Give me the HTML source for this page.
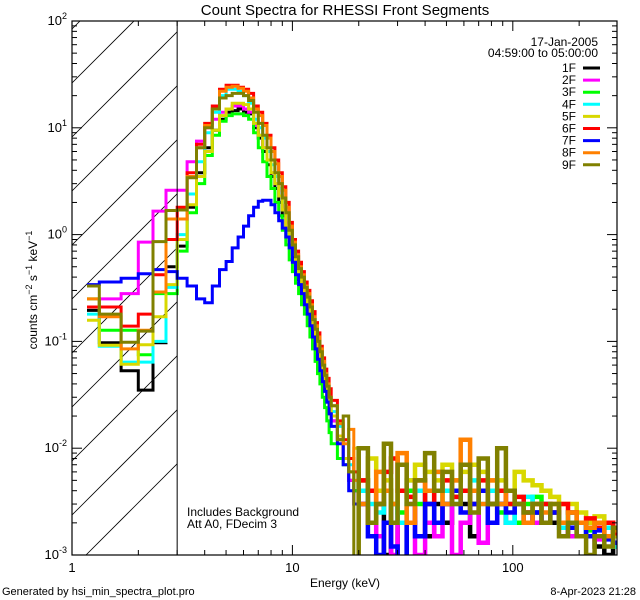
<!DOCTYPE html>
<html><head><meta charset="utf-8">
<style>
html,body{margin:0;padding:0;background:#fff;width:640px;height:600px;overflow:hidden;}
svg{display:block;font-family:"Liberation Sans",sans-serif;}
</style></head>
<body>
<svg id="chart" width="640" height="600" viewBox="0 0 640 600">
<defs><clipPath id="plotclip"><rect x="72" y="21" width="545" height="534"/></clipPath></defs>
<rect x="0" y="0" width="640" height="600" fill="#fff"/>
<text x="345" y="15" font-size="15" text-anchor="middle">Count Spectra for RHESSI Front Segments</text>
<g id="hatch"></g>
<g id="series" clip-path="url(#plotclip)"></g>
<g id="axes"></g>
<text x="187" y="516" font-size="12">Includes Background</text>
<text x="187" y="528" font-size="12">Att A0, FDecim 3</text>
<text x="598" y="46" font-size="12" text-anchor="end">17-Jan-2005</text>
<text x="598" y="57" font-size="12" text-anchor="end">04:59:00 to 05:00:00</text>
<g id="legend"></g>
<text x="37" y="290" font-size="12" text-anchor="middle" transform="rotate(-90 37 290)">counts cm<tspan dy="-5" font-size="9">−2</tspan><tspan dy="5"> s</tspan><tspan dy="-5" font-size="9">−1</tspan><tspan dy="5"> keV</tspan><tspan dy="-5" font-size="9">−1</tspan></text>
<text x="345" y="587" font-size="12" text-anchor="middle">Energy (keV)</text>
<text x="2" y="595" font-size="11">Generated by hsi_min_spectra_plot.pro</text>
<text x="636" y="595" font-size="11" text-anchor="end">8-Apr-2023 21:28</text>
</svg>
<script>
const lowEdges = [1.17,1.33,1.67,2,2.33,2.67,3];
const midEdges = [3,3.33,3.67,4,4.33,4.67,5,5.33,5.67,6,6.33,6.67,7,7.33,7.67,8,8.33,8.67,9,9.33,9.67,10,10.33,10.67,11,11.33,11.67,12,12.33,12.67,13,13.33,13.67,14,14.33,14.67,15,16,17,18,19,20];
const tailEdges = [20,22,24,26,28,30,33,36,40,44,48,53,58,64,70,77,85,93,102,112,123,135,148,162,178,195,215,235,260,285,300];
const segNames = ["1F","2F","3F","4F","5F","6F","7F","8F","9F"];
const segColors = ["#000000","#ff00ff","#00ff00","#00ffff","#d8d800","#ff0000","#0000ff","#ff8000","#808000"];

const low1F=[0.195,0.097,0.053,0.035,0.097,0.5];
const low2F=[0.21,0.25,0.28,0.85,1.66,2.6];
const low3F=[0.25,0.127,0.127,0.075,0.28,0.28];
const low4F=[0.18,0.09,0.064,0.064,0.1,0.32];
const low5F=[0.158,0.092,0.061,0.093,0.17,0.34];
const low6F=[0.21,0.21,0.139,0.18,0.42,0.9];
const low7F=[0.34,0.36,0.39,0.43,0.47,0.45];
const low8F=[0.25,0.17,0.085,0.127,0.29,1.4];
const low9F=[0.33,0.18,0.098,0.125,0.86,1.68];

const mid1F=[0.78,1.8,3.8,6.5,9.5,12,14,14.5,15,14,13.5,10,8,6,4.5,3.5,2.7,2,1.5,1.1,0.8,0.6,0.47,0.38,0.3,0.25,0.2,0.16,0.12,0.095,0.075,0.057,0.045,0.035,0.027,0.021,0.018,0.012,0.008,0.005,0.004];
const mid2F=[2.6,4.8,7.5,10,12,14,15,16,16,15,14,10.5,8.5,6.5,5,3.8,3,2.3,1.7,1.2,0.85,0.65,0.5,0.4,0.32,0.26,0.21,0.17,0.13,0.1,0.08,0.06,0.047,0.037,0.028,0.022,0.018,0.012,0.008,0.005,0.003];
const mid3F=[0.7,1.6,3,5.5,8.5,11.5,13,13.5,13.5,13,12,9,6.5,4.8,3.5,2.7,2,1.5,1.1,0.8,0.58,0.45,0.35,0.28,0.22,0.18,0.14,0.11,0.085,0.065,0.05,0.04,0.03,0.024,0.018,0.014,0.011,0.008,0.007,0.006,0.004];
const mid4F=[1.0,2.4,4.8,9,14,20,23,23,22,20,17,12,10,8,6,4.5,3.5,2.7,2,1.4,1.0,0.75,0.58,0.46,0.38,0.3,0.25,0.2,0.16,0.12,0.1,0.075,0.06,0.045,0.035,0.028,0.022,0.016,0.012,0.007,0.006];
const mid5F=[0.9,1.9,3.5,6,9.5,13,15,17,17,16.5,15,11,8.5,6.5,5,3.8,3,2.3,1.7,1.2,0.85,0.65,0.5,0.4,0.33,0.27,0.22,0.17,0.13,0.1,0.08,0.06,0.047,0.037,0.03,0.024,0.02,0.013,0.008,0.006,0.01];
const mid6F=[1.8,3.8,7,11,16,23,25,25,24,23,21,16,14,11,8.5,6.5,5,3.8,2.8,2,1.3,0.9,0.7,0.55,0.45,0.36,0.3,0.24,0.19,0.15,0.12,0.09,0.07,0.055,0.045,0.036,0.028,0.018,0.012,0.008,0.006];
const mid7F=[0.39,0.33,0.25,0.23,0.33,0.47,0.56,0.75,0.95,1.2,1.5,1.8,2.05,2.1,2.1,1.9,1.6,1.35,1.15,0.95,0.75,0.55,0.42,0.34,0.28,0.22,0.18,0.14,0.11,0.085,0.068,0.053,0.042,0.034,0.027,0.021,0.016,0.011,0.007,0.004,0.003];
const mid8F=[1.4,3.5,6.5,10.5,15,22,24,24.5,23.5,22,19,15,13,10.5,8,6,4.6,3.5,2.6,1.8,1.2,0.85,0.65,0.5,0.42,0.33,0.28,0.22,0.17,0.14,0.11,0.085,0.065,0.05,0.04,0.03,0.025,0.017,0.011,0.015,0.005];
const mid9F=[1.7,3.4,6.5,10,15,19,20,21,21,20,18,14,11,8.5,6.5,5,3.8,3,2.2,1.6,1.1,0.8,0.62,0.48,0.4,0.32,0.26,0.21,0.16,0.13,0.1,0.08,0.06,0.048,0.038,0.03,0.025,0.012,0.02,0.006,0.0005];

const tailMilli1F=[4,2,3,1,3,0.8,2,4,1.5,3,2,4,3,1.5,4,3,3,2,3,2,2.5,3,2,2,1.5,2,1.5,1.2,1,1.3];
const tailMilli2F=[3,2,1.5,2,1,2,3,1,2,1.5,3,1,2,3,1.3,2,3,4,3,2.5,2,3,2.5,2,1.5,2,1.8,1.4,2,1.5];
const tailMilli3F=[5,4,3,4,3,2.5,4,3,3,4,3,3.5,4,3,4,3,2.5,3,2,3,3.5,3,2.5,2,2.5,2,1.7,1.8,1.5,1.2];
const tailMilli4F=[4,3,2.5,4,3,2,5,4,3,6,4,3,4,5,3,4,3,2,3,3.5,2.5,3,2.5,1.8,2.5,2,1.5,2,1.8,1.2];
const tailMilli5F=[5,8,4,5,3,4,5,7,6,5,7,5,6,7,6,5,5,4,6,5,4.5,4,3.5,3,3,2.5,2,2.3,2,1.5];
const tailMilli6F=[5,4,3,6,8,4,3.5,5,3,4,5,3.5,4,3,5,3,4,3,3.5,2.5,3,3,2.5,3,2.5,2,2.2,1.8,2,1.6];
const tailMilli7F=[3,1.5,1,2,1.2,0.9,2,1.5,3,2,3,4,2.5,3,4,2,3,2.5,3,2,2.5,2,2.5,2,1.8,2,1.5,1.7,1.4,1.3];
const tailMilli8F=[3,2,6,4,3,9,2,5,4,6,3,5,12,4,3,5,3,4,3,2,3,2.5,3,2,2.5,2,1.8,2,1.5,1.7];
const tailMilli9F=[10,2,3,11,2,7,3,5,9,4,6,3,7,2.5,8,3,10,4,3,2.5,3,2,3,1.5,2,1.5,1,1.5,1.2,1.8];

const lowSets=[low1F,low2F,low3F,low4F,low5F,low6F,low7F,low8F,low9F];
const midSets=[mid1F,mid2F,mid3F,mid4F,mid5F,mid6F,mid7F,mid8F,mid9F];
const tailSets=[tailMilli1F,tailMilli2F,tailMilli3F,tailMilli4F,tailMilli5F,tailMilli6F,tailMilli7F,tailMilli8F,tailMilli9F];

const X0=72,X1=617,Y0=21,Y1=555;
const XMIN=1,XMAX=297,YMIN=-3,YMAX=2;
const xs=e=>X0+(Math.log10(e)-Math.log10(XMIN))/(Math.log10(XMAX)-Math.log10(XMIN))*(X1-X0);
const ys=v=>{let l=v>0?Math.log10(v):-5;l=Math.max(l,-3.05);return Y1-(l-YMIN)/(YMAX-YMIN)*(Y1-Y0);};
const NS="http://www.w3.org/2000/svg";
function mk(tag,attrs,parent){const el=document.createElementNS(NS,tag);for(const k in attrs)el.setAttribute(k,attrs[k]);parent.appendChild(el);return el;}

// hatch
const hatch=document.getElementById('hatch');
const xh=xs(3);
const hclip=document.createElementNS(NS,'clipPath');hclip.setAttribute('id','hc');
mk('rect',{x:X0,y:Y0,width:xh-X0,height:Y1-Y0},hclip);
document.querySelector('defs').appendChild(hclip);
hatch.setAttribute('clip-path','url(#hc)');
for(let k=-2;k<10;k++){
  const yb=83+k*54;
  const l=mk('line',{x1:X0,y1:yb,x2:xh,y2:yb-(xh-X0),stroke:'#000','stroke-width':0.8},hatch);
  
  
}
const vline=mk('line',{x1:xh,y1:Y0,x2:xh,y2:Y1,stroke:'#000','stroke-width':1},document.getElementById('axes'));



// series
const sg=document.getElementById('series');
function stepPath(edges,vals){
  let d='';
  for(let i=0;i<vals.length;i++){
    const xa=xs(edges[i]),xb=xs(edges[i+1]),y=ys(vals[i]);
    d+=(i===0?'M':'L')+xa.toFixed(1)+','+y.toFixed(1)+'L'+xb.toFixed(1)+','+y.toFixed(1);
  }
  return d;
}
for(let s=0;s<9;s++){
  const tail=tailSets[s].map(v=>v*0.001);
  const edges=lowEdges.concat(midEdges.slice(1));
  const vals=lowSets[s].concat(midSets[s]);
  const p=mk('path',{d:stepPath(edges,vals),fill:'none',stroke:segColors[s],'stroke-width':3},sg);
  
  
  const lastV=vals[vals.length-1];
  const p2=mk('path',{d:stepPath([20,20].concat(tailEdges.slice(1)),[lastV].concat(tail)).replace(/^M[^L]*L/,'M'),fill:'none',stroke:segColors[s],'stroke-width':4.5},sg);
  
  
}

// axes
const ax=document.getElementById('axes');
const frame=mk('rect',{x:X0,y:Y0,width:X1-X0,height:Y1-Y0,fill:'none',stroke:'#000','stroke-width':1.2},ax);


const xTickVals=[1,10,100];
const xTickLabels=["1","10","100"];
for(let d=0;d<3;d++){
  for(let m=1;m<10;m++){
    const e=Math.pow(10,d)*m;if(e>XMAX)break;
    const x=xs(e),len=m===1?10:5;
    mk('line',{x1:x,y1:Y1,x2:x,y2:Y1-len,stroke:'#000'},ax);
    mk('line',{x1:x,y1:Y0,x2:x,y2:Y0+len,stroke:'#000'},ax);
  }
}
xTickVals.forEach((v,i)=>{
  const t=mk('text',{x:xs(v),y:Y1+17,'font-size':13,'text-anchor':'middle'},ax);
  t.textContent=xTickLabels[i];
  
  
});
const yTickExps=[2,1,0,-1,-2,-3];
for(let d=-3;d<2;d++){
  for(let m=1;m<10;m++){
    const y=ys(Math.pow(10,d)*m),len=m===1?10:5;
    mk('line',{x1:X0,y1:y,x2:X0+len,y2:y,stroke:'#000'},ax);
    mk('line',{x1:X1,y1:y,x2:X1-len,y2:y,stroke:'#000'},ax);
  }
}
mk('line',{x1:X0,y1:Y0,x2:X0+10,y2:Y0,stroke:'#000'},ax);
yTickExps.forEach(e=>{
  const y=ys(Math.pow(10,e));
  const t=mk('text',{x:X0-5,y:y+4,'font-size':13,'text-anchor':'end'},ax);
  t.innerHTML='10<tspan dy="-6" font-size="9">'+e+'</tspan>';
  
  
});

// legend
const lg=document.getElementById('legend');
segNames.forEach((n,i)=>{
  const y=68+i*12.1;
  const g=mk('g',{},lg);
  
  
  const t=mk('text',{x:576,y:y+4,'font-size':12,'text-anchor':'end'},g);
  t.textContent=n;
  mk('line',{x1:583,y1:y,x2:600,y2:y,stroke:segColors[i],'stroke-width':3},g);
});
</script>
</body></html>
